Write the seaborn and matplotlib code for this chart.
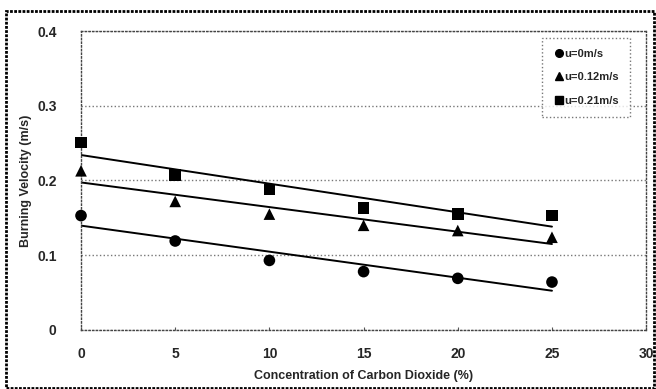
import matplotlib
matplotlib.use('Agg')
import matplotlib.pyplot as plt
import seaborn as sns
import pandas as pd
from matplotlib.patches import Rectangle

# values
co2 = [0, 5, 10, 15, 20, 25]
v_u0 = [0.153, 0.119, 0.093, 0.078, 0.069, 0.064]
v_u012 = [0.213, 0.172, 0.155, 0.140, 0.133, 0.124]
v_u021 = [0.251, 0.207, 0.188, 0.163, 0.155, 0.153]
labels = ['u=0m/s', 'u=0.12m/s', 'u=0.21m/s']
markers = ['o', '^', 's']

sns.set_style('white')
plt.rcParams['font.family'] = ['Liberation Sans', 'DejaVu Sans']
plt.rcParams['font.weight'] = 'bold'

fig = plt.figure(figsize=(6.56, 3.89), dpi=100)
ax = fig.add_axes([0.1235, 0.152, 0.8615, 0.768])

handles = []
for vals, lab, mk in zip([v_u0, v_u012, v_u021], labels, markers):
    df = pd.DataFrame({'x': co2, 'y': vals})
    sns.regplot(data=df, x='x', y='y', ax=ax, ci=None, marker=mk,
                scatter_kws={'color': 'black', 's': 70, 'edgecolor': 'none',
                             'alpha': 1, 'clip_on': False, 'zorder': 4},
                line_kws={'color': 'black', 'lw': 1.4}, truncate=True)
    handles.append(plt.Line2D([], [], marker=mk, color='black', ls='none', markersize=5.5))

ax.set_xlim(0, 30)
ax.set_ylim(0, 0.4)
ax.set_xticks([0, 5, 10, 15, 20, 25, 30])
ax.set_yticks([0, 0.1, 0.2, 0.3, 0.4])
ax.set_yticklabels(['0', '0.1', '0.2', '0.3', '0.4'])
ax.tick_params(axis='both', labelsize=10)
ax.tick_params(axis='y', pad=14)
ax.tick_params(axis='x', direction='in', length=2, bottom=True, color='#555555', pad=12)
for t in ax.get_xticklabels() + ax.get_yticklabels():
    t.set_fontweight('bold')
ax.set_xlabel('Concentration of Carbon Dioxide (%)', fontsize=9, fontweight='bold', labelpad=7)
ax.set_ylabel('Burning Velocity (m/s)', fontsize=9, fontweight='bold', labelpad=4)

ax.yaxis.grid(True, color='#777777', ls=':', lw=1)
ax.set_axisbelow(True)
for sp in ax.spines.values():
    sp.set_linestyle(':')
    sp.set_color('#444444')
    sp.set_linewidth(1)

leg = ax.legend(handles, labels, loc='upper right', bbox_to_anchor=(0.975, 0.985),
                frameon=True, fancybox=False, fontsize=8, handletextpad=0.0,
                handlelength=1.0, labelspacing=1.2, borderpad=1.0, borderaxespad=0.2)
leg.get_frame().set_edgecolor('#555555')
leg.get_frame().set_linestyle(':')
leg.get_frame().set_linewidth(1)
for t in leg.get_texts():
    t.set_fontweight('bold')

# outer frame around the whole picture
fig.patches.append(Rectangle((0.009, 0.003), 0.988, 0.968, transform=fig.transFigure,
                             fill=False, ec='black', lw=2, ls=(0, (1, 0.5))))

fig.savefig('out.png', dpi=100)
